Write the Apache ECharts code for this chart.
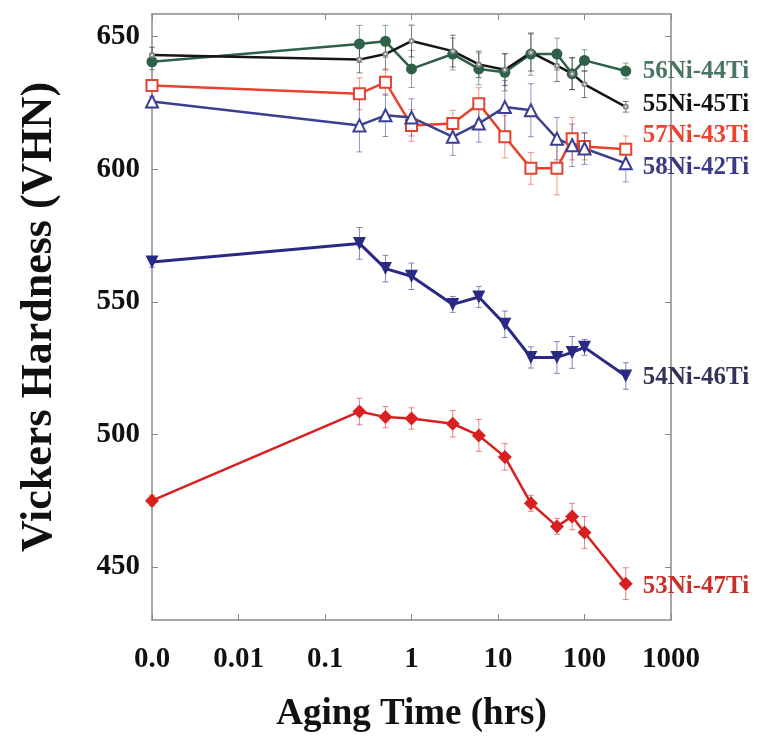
<!DOCTYPE html>
<html>
<head>
<meta charset="utf-8">
<script src="https://cdn.jsdelivr.net/npm/echarts@6/dist/echarts.min.js"></script>
<style>
html, body { margin: 0; padding: 0; background: #fff; }
#chart { width: 760px; height: 740px; }
</style>
</head>
<body>
<div id="chart"></div>
<script>
// aging times in hours, 0 = as-quenched (drawn at the "0.0" position)
var times = [0, 0.25, 0.5, 1, 3, 6, 12, 24, 48, 72, 100, 300];
var xTickLabels = ['0.0', '0.01', '0.1', '1', '10', '100', '1000'];
var yTicks = [450, 500, 550, 600, 650];

var names = ['56Ni-44Ti', '55Ni-45Ti', '57Ni-43Ti', '58Ni-42Ti', '54Ni-46Ti', '53Ni-47Ti'];

var hv56 = [640.5, 647.2, 648.2, 637.8, 643.4, 637.8, 636.5, 643.4, 643.4, 636, 641, 637];
var err56 = [3, 7, 6, 7, 6, 6, 7, 8, 6, 6, 4, 3];
var hv55 = [643, 641.3, 643.4, 648.3, 644.5, 639.5, 637.5, 644, 639, 636, 632, 623.5];
var err55 = [3, 5, 6, 6, 6, 5, 6, 7, 6, 6, 5, 2];
var hv57 = [631.5, 628.4, 632.8, 616.5, 617.2, 624.7, 612.2, 600.3, 600.3, 611.5, 608.5, 607.5];
var err57 = [2, 6, 5, 6, 5, 6, 8, 6, 10, 8, 5, 5];
var hv58 = [625.5, 616.5, 620.3, 619.5, 612.2, 617.2, 623.4, 622.2, 611.5, 609, 607.8, 602.2];
var err58 = [2, 10, 8, 7, 7, 7, 10, 10, 8, 8, 6, 7];
var hv54 = [565, 572, 562.5, 559.6, 549, 551.8, 541.5, 529, 529, 530.9, 532.8, 522];
var err54 = [2, 6, 5, 5, 3, 4, 5, 4, 6, 6, 3, 5];
var hv53 = [475, 508.6, 506.5, 506, 504, 499.6, 491.5, 474, 465.3, 469, 463, 443.7];
var err53 = [2, 5, 4, 4, 5, 6, 5, 3, 3, 5, 6, 6];

var colors = ['#2f6048', '#151515', '#e8412e', '#3b3f8f', '#2a2a85', '#d92020'];
var labelColors = ['#4a7560', '#111111', '#e8452f', '#3a3a86', '#333358', '#c8302c'];
var symbols = ['circle', 'emptyCircle', 'emptyRect', 'emptyTriangle', 'triangle', 'diamond'];
var symbolSizes = [11, 4, 11, 12, 13, 14];
var symbolRotates = [0, 0, 0, 0, 180, 0];
var labelOffsets = [[9, 1], [9, -2], [9, -14], [9, 4], [9, 2], [9, 3]];
var values = [hv56, hv55, hv57, hv58, hv54, hv53];
var errors = [err56, err55, err57, err58, err54, err53];

var serif = 'Liberation Serif';

function xOf(t) { return t === 0 ? 0.001 : t; }

var chart = echarts.init(document.getElementById('chart'));

var series = [];
values.forEach(function (vals, si) {
	var errData = vals.map(function (v, i) { return [xOf(times[i]), v, errors[si][i]]; });
	// error bars
	series.push({
		type: 'custom',
		name: names[si] + ' err',
		z: 2,
		silent: true,
		renderItem: function (params, api) {
			var x = api.value(0), y = api.value(1), e = api.value(2);
			var top = api.coord([x, y + e]);
			var bot = api.coord([x, y - e]);
			var cap = 3;
			var st = { stroke: colors[si], lineWidth: 1, opacity: 0.55 };
			return {
				type: 'group',
				children: [
					{ type: 'line', shape: { x1: top[0], y1: top[1], x2: bot[0], y2: bot[1] }, style: st },
					{ type: 'line', shape: { x1: top[0] - cap, y1: top[1], x2: top[0] + cap, y2: top[1] }, style: st },
					{ type: 'line', shape: { x1: bot[0] - cap, y1: bot[1], x2: bot[0] + cap, y2: bot[1] }, style: st }
				]
			};
		},
		data: errData
	});
	series.push({
		type: 'line',
		name: names[si],
		z: 3,
		symbol: symbols[si],
		symbolSize: symbolSizes[si],
		symbolRotate: symbolRotates[si],
		showAllSymbol: true,
		lineStyle: { color: colors[si], width: si === 4 ? 3 : 2.5 },
		itemStyle: { color: si === 1 ? '#888' : colors[si], borderWidth: 1.5 },
		endLabel: {
			show: true,
			formatter: names[si],
			color: labelColors[si],
			fontFamily: serif,
			fontWeight: 'bold',
			fontSize: 25,
			offset: labelOffsets[si]
		},
		data: vals.map(function (v, i) { return [xOf(times[i]), v]; })
	});
});

function fmtX(v) {
	var e = Math.round(Math.log(v) / Math.LN10);
	return xTickLabels[e + 3];
}

var axisLine = { show: true, lineStyle: { color: '#8a8a8a', width: 1.5 } };

var option = {
	animation: false,
	backgroundColor: '#fff',
	grid: { left: 152, right: 89, top: 14, bottom: 120, containLabel: false, outerBoundsMode: 'none' },
	xAxis: [{
		type: 'log',
		logBase: 10,
		min: 0.001,
		max: 1000,
		interval: 1,
		position: 'bottom',
		name: 'Aging Time (hrs)',
		nameLocation: 'middle',
		nameGap: 76,
		nameTextStyle: { fontFamily: serif, fontWeight: 'bold', fontSize: 37, color: '#111' },
		axisLine: axisLine,
		axisTick: { show: true, inside: true, length: 6, lineStyle: { color: '#8a8a8a' } },
		minorTick: { show: false },
		splitLine: { show: false },
		axisLabel: { fontFamily: serif, fontWeight: 'bold', fontSize: 29, color: '#111', margin: 25, formatter: fmtX }
	}, {
		type: 'log',
		logBase: 10,
		min: 0.001,
		max: 1000,
		interval: 1,
		position: 'top',
		axisLine: axisLine,
		axisTick: { show: true, inside: true, length: 6, lineStyle: { color: '#8a8a8a' } },
		splitLine: { show: false },
		axisLabel: { show: false }
	}],
	yAxis: [{
		type: 'value',
		min: 430,
		max: 658.5,
		position: 'left',
		name: 'Vickers Hardness (VHN)',
		nameLocation: 'middle',
		nameGap: 90,
		nameTextStyle: { fontFamily: serif, fontWeight: 'bold', fontSize: 44, color: '#111' },
		axisLine: axisLine,
		axisTick: { show: true, inside: true, length: 6, customValues: yTicks, lineStyle: { color: '#8a8a8a' } },
		splitLine: { show: false },
		axisLabel: { fontFamily: serif, fontWeight: 'bold', fontSize: 29, color: '#111', margin: 12, customValues: yTicks }
	}, {
		type: 'value',
		min: 430,
		max: 658.5,
		position: 'right',
		axisLine: axisLine,
		axisTick: { show: true, inside: true, length: 6, customValues: yTicks, lineStyle: { color: '#8a8a8a' } },
		splitLine: { show: false },
		axisLabel: { show: false }
	}],
	series: series
};

chart.setOption(option);
</script>
</body>
</html>
